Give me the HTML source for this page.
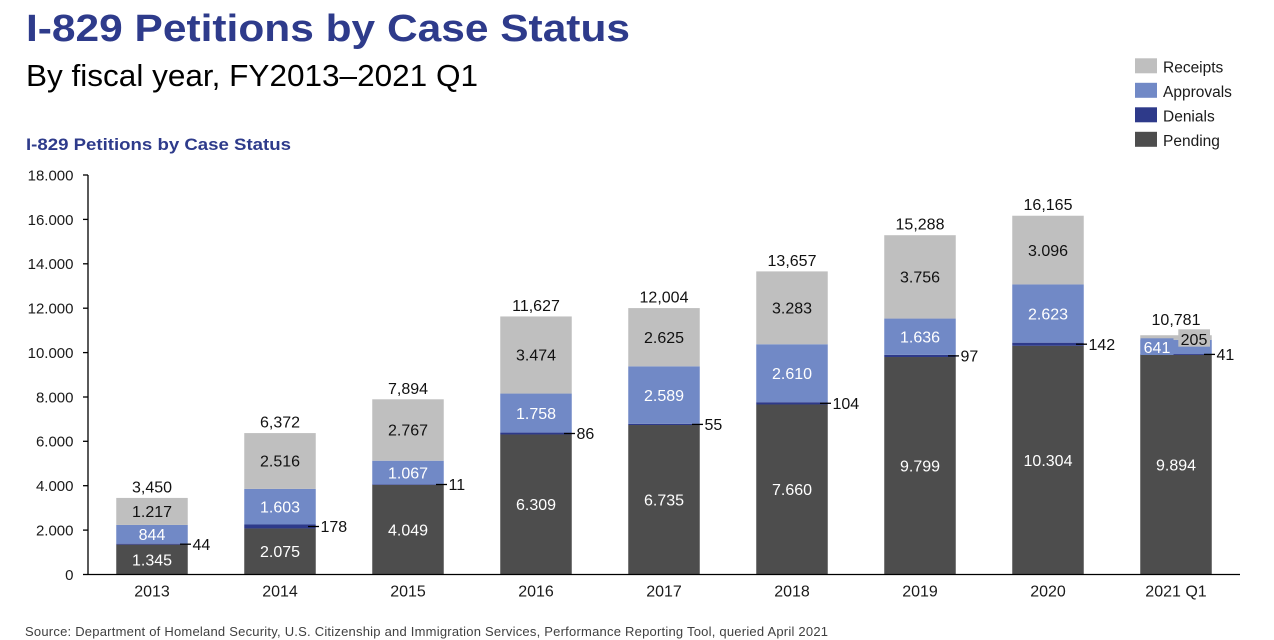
<!DOCTYPE html>
<html>
<head>
<meta charset="utf-8">
<style>
html,body{margin:0;padding:0;background:#fff;}
svg{display:block;}
text{font-family:"Liberation Sans",Arial,sans-serif;}
</style>
</head>
<body>
<svg width="1274" height="640" viewBox="0 0 1274 640" xmlns="http://www.w3.org/2000/svg">
<rect x="0" y="0" width="1274" height="640" fill="#ffffff"/>

<!-- Titles -->
<text x="26" y="41" font-size="38" font-weight="bold" fill="#2E3B8B" textLength="604" lengthAdjust="spacingAndGlyphs">I-829 Petitions by Case Status</text>
<text x="26" y="86" font-size="31" fill="#000" textLength="452" lengthAdjust="spacingAndGlyphs">By fiscal year, FY2013–2021 Q1</text>
<text x="26" y="150" font-size="17" font-weight="bold" fill="#2E3B8B" textLength="265" lengthAdjust="spacingAndGlyphs">I-829 Petitions by Case Status</text>

<!-- Legend -->
<rect x="1135" y="58.3" width="22" height="15" fill="#BFBFBF"/>
<rect x="1135" y="82.8" width="22" height="15" fill="#7189C6"/>
<rect x="1135" y="107.3" width="22" height="15" fill="#2E3A8A"/>
<rect x="1135" y="131.8" width="22" height="15" fill="#4D4D4D"/>
<g font-size="15.5" fill="#1a1a1a">
<text x="1163" y="72.7">Receipts</text>
<text x="1163" y="97.2">Approvals</text>
<text x="1163" y="121.7">Denials</text>
<text x="1163" y="146.2">Pending</text>
</g>

<!-- Y axis -->
<g stroke="#000" stroke-width="1.3">
<line x1="88" y1="175" x2="88" y2="574.5"/>
<line x1="83" y1="175" x2="88" y2="175"/>
<line x1="83" y1="219.4" x2="88" y2="219.4"/>
<line x1="83" y1="263.8" x2="88" y2="263.8"/>
<line x1="83" y1="308.2" x2="88" y2="308.2"/>
<line x1="83" y1="352.6" x2="88" y2="352.6"/>
<line x1="83" y1="397" x2="88" y2="397"/>
<line x1="83" y1="441.3" x2="88" y2="441.3"/>
<line x1="83" y1="485.7" x2="88" y2="485.7"/>
<line x1="83" y1="530.1" x2="88" y2="530.1"/>
<line x1="83" y1="574.5" x2="88" y2="574.5"/>
</g>
<g font-size="15" fill="#1a1a1a" text-anchor="end">
<text x="73.5" y="180.4">18.000</text>
<text x="73.5" y="224.8">16.000</text>
<text x="73.5" y="269.2">14.000</text>
<text x="73.5" y="313.6">12.000</text>
<text x="73.5" y="358">10.000</text>
<text x="73.5" y="402.4">8.000</text>
<text x="73.5" y="446.7">6.000</text>
<text x="73.5" y="491.1">4.000</text>
<text x="73.5" y="535.5">2.000</text>
<text x="73.5" y="579.9">0</text>
</g>

<!-- Bars -->
<!-- 2013 c=152 -->
<g>
<rect x="116.25" y="544.65" width="71.5" height="29.85" fill="#4D4D4D"/>
<rect x="116.25" y="543.67" width="71.5" height="0.98" fill="#2E3A8A"/>
<rect x="116.25" y="524.94" width="71.5" height="18.73" fill="#7189C6"/>
<rect x="116.25" y="497.93" width="71.5" height="27.01" fill="#BFBFBF"/>
</g>
<!-- 2014 c=280 -->
<g>
<rect x="244.25" y="528.45" width="71.5" height="46.05" fill="#4D4D4D"/>
<rect x="244.25" y="524.5" width="71.5" height="3.95" fill="#2E3A8A"/>
<rect x="244.25" y="488.92" width="71.5" height="35.58" fill="#7189C6"/>
<rect x="244.25" y="433.08" width="71.5" height="55.84" fill="#BFBFBF"/>
</g>
<!-- 2015 c=408 -->
<g>
<rect x="372.25" y="484.64" width="71.5" height="89.86" fill="#4D4D4D"/>
<rect x="372.25" y="484.39" width="71.5" height="0.5" fill="#2E3A8A"/>
<rect x="372.25" y="460.71" width="71.5" height="23.68" fill="#7189C6"/>
<rect x="372.25" y="399.3" width="71.5" height="61.41" fill="#BFBFBF"/>
</g>
<!-- 2016 c=536 -->
<g>
<rect x="500.25" y="434.48" width="71.5" height="140.02" fill="#4D4D4D"/>
<rect x="500.25" y="432.57" width="71.5" height="1.91" fill="#2E3A8A"/>
<rect x="500.25" y="393.55" width="71.5" height="39.02" fill="#7189C6"/>
<rect x="500.25" y="316.45" width="71.5" height="77.1" fill="#BFBFBF"/>
</g>
<!-- 2017 c=664 -->
<g>
<rect x="628.25" y="425.02" width="71.5" height="149.48" fill="#4D4D4D"/>
<rect x="628.25" y="423.8" width="71.5" height="1.22" fill="#2E3A8A"/>
<rect x="628.25" y="366.34" width="71.5" height="57.46" fill="#7189C6"/>
<rect x="628.25" y="308.08" width="71.5" height="58.26" fill="#BFBFBF"/>
</g>
<!-- 2018 c=792 -->
<g>
<rect x="756.25" y="404.49" width="71.5" height="170.01" fill="#4D4D4D"/>
<rect x="756.25" y="402.19" width="71.5" height="2.3" fill="#2E3A8A"/>
<rect x="756.25" y="344.26" width="71.5" height="57.93" fill="#7189C6"/>
<rect x="756.25" y="271.4" width="71.5" height="72.86" fill="#BFBFBF"/>
</g>
<!-- 2019 c=920 -->
<g>
<rect x="884.25" y="357.02" width="71.5" height="217.48" fill="#4D4D4D"/>
<rect x="884.25" y="354.87" width="71.5" height="2.15" fill="#2E3A8A"/>
<rect x="884.25" y="318.56" width="71.5" height="36.31" fill="#7189C6"/>
<rect x="884.25" y="235.2" width="71.5" height="83.36" fill="#BFBFBF"/>
</g>
<!-- 2020 c=1048 -->
<g>
<rect x="1012.25" y="345.81" width="71.5" height="228.69" fill="#4D4D4D"/>
<rect x="1012.25" y="342.66" width="71.5" height="3.15" fill="#2E3A8A"/>
<rect x="1012.25" y="284.45" width="71.5" height="58.21" fill="#7189C6"/>
<rect x="1012.25" y="215.73" width="71.5" height="68.72" fill="#BFBFBF"/>
</g>
<!-- 2021 Q1 c=1176 -->
<g>
<rect x="1140.25" y="354.91" width="71.5" height="219.59" fill="#4D4D4D"/>
<rect x="1140.25" y="354.0" width="71.5" height="0.91" fill="#2E3A8A"/>
<rect x="1140.25" y="339.78" width="71.5" height="14.22" fill="#7189C6"/>
<rect x="1140.25" y="335.23" width="71.5" height="4.55" fill="#BFBFBF"/>
<!-- label boxes -->
<rect x="1140.5" y="338.3" width="33" height="16.7" fill="#7189C6"/>
<rect x="1178.3" y="329.3" width="31.7" height="17.4" fill="#BFBFBF"/>
</g>

<!-- X axis -->
<line x1="88" y1="574.5" x2="1240" y2="574.5" stroke="#000" stroke-width="1.3"/>

<!-- Category labels -->
<g font-size="16" fill="#1a1a1a" text-anchor="middle">
<text x="152" y="596.7">2013</text>
<text x="280" y="596.7">2014</text>
<text x="408" y="596.7">2015</text>
<text x="536" y="596.7">2016</text>
<text x="664" y="596.7">2017</text>
<text x="792" y="596.7">2018</text>
<text x="920" y="596.7">2019</text>
<text x="1048" y="596.7">2020</text>
<text x="1176" y="596.7">2021 Q1</text>
</g>

<!-- Pending labels (white) -->
<g font-size="16" fill="#ffffff" text-anchor="middle">
<text x="152" y="565.3">1.345</text>
<text x="280" y="557.2">2.075</text>
<text x="408" y="535.3">4.049</text>
<text x="536" y="510.2">6.309</text>
<text x="664" y="505.5">6.735</text>
<text x="792" y="495.2">7.660</text>
<text x="920" y="471.5">9.799</text>
<text x="1048" y="465.9">10.304</text>
<text x="1176" y="470.4">9.894</text>
</g>
<!-- Approvals labels (white) -->
<g font-size="16" fill="#ffffff" text-anchor="middle">
<text x="152" y="540">844</text>
<text x="280" y="512.4">1.603</text>
<text x="408" y="478.3">1.067</text>
<text x="536" y="418.8">1.758</text>
<text x="664" y="400.8">2.589</text>
<text x="792" y="378.9">2.610</text>
<text x="920" y="342.4">1.636</text>
<text x="1048" y="319.3">2.623</text>
<text x="1157" y="353">641</text>
</g>
<!-- Receipts labels (black) -->
<g font-size="16" fill="#111" text-anchor="middle">
<text x="152" y="517.1">1.217</text>
<text x="280" y="466.7">2.516</text>
<text x="408" y="435.7">2.767</text>
<text x="536" y="360.7">3.474</text>
<text x="664" y="342.9">2.625</text>
<text x="792" y="313.5">3.283</text>
<text x="920" y="282.6">3.756</text>
<text x="1048" y="255.8">3.096</text>
<text x="1194" y="345">205</text>
</g>
<!-- Totals -->
<g font-size="16" fill="#111" text-anchor="middle">
<text x="152" y="492.4">3,450</text>
<text x="280" y="427.6">6,372</text>
<text x="408" y="393.8">7,894</text>
<text x="536" y="311">11,627</text>
<text x="664" y="302.6">12,004</text>
<text x="792" y="265.9">13,657</text>
<text x="920" y="229.7">15,288</text>
<text x="1048" y="210.2">16,165</text>
<text x="1176" y="325">10,781</text>
</g>
<!-- Denial leader lines and labels -->
<g stroke="#000" stroke-width="1.3">
<line x1="180" y1="544.2" x2="191" y2="544.2"/>
<line x1="308" y1="526.5" x2="319" y2="526.5"/>
<line x1="436" y1="484.5" x2="447" y2="484.5"/>
<line x1="564" y1="433.5" x2="575" y2="433.5"/>
<line x1="692" y1="424.4" x2="703" y2="424.4"/>
<line x1="820" y1="403.3" x2="831" y2="403.3"/>
<line x1="948" y1="355.9" x2="959" y2="355.9"/>
<line x1="1076" y1="344.2" x2="1087" y2="344.2"/>
<line x1="1204" y1="354.4" x2="1215" y2="354.4"/>
</g>
<g font-size="16" fill="#111">
<text x="192.5" y="549.9">44</text>
<text x="320.5" y="532.2">178</text>
<text x="448.5" y="490.2">11</text>
<text x="576.5" y="439.2">86</text>
<text x="704.5" y="430.1">55</text>
<text x="832.5" y="409">104</text>
<text x="960.5" y="361.6">97</text>
<text x="1088.5" y="349.9">142</text>
<text x="1216.5" y="360.1">41</text>
</g>

<!-- Source -->
<text x="25" y="636" font-size="13" fill="#404040" textLength="803" lengthAdjust="spacing">Source: Department of Homeland Security, U.S. Citizenship and Immigration Services, Performance Reporting Tool, queried April 2021</text>
</svg>
</body>
</html>
